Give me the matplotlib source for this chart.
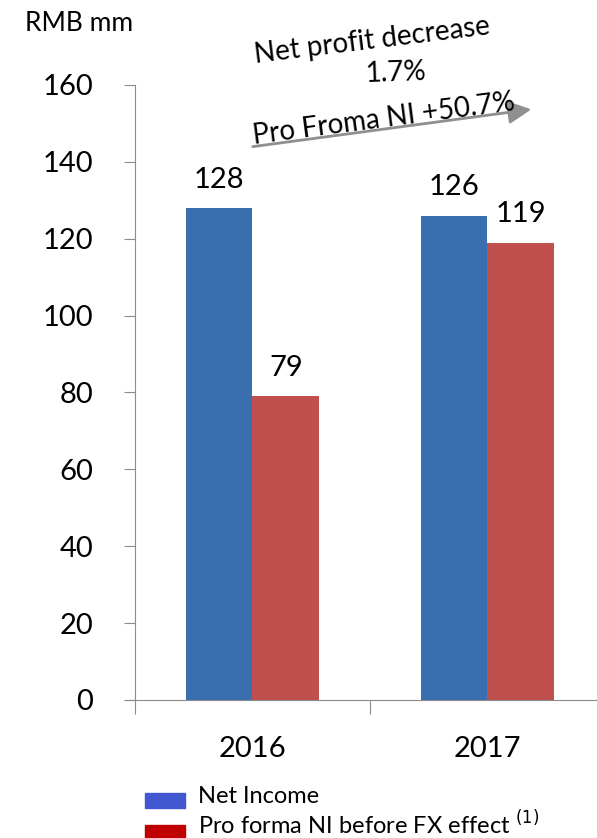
import numpy as np
import matplotlib.pyplot as plt
from matplotlib.patches import FancyArrowPatch, Rectangle

plt.rcParams['font.family'] = ['Lato', 'DejaVu Sans']

years = ["2016", "2017"]
net_income = [128, 126]
pro_forma = [79, 119]
yticks = [0, 20, 40, 60, 80, 100, 120, 140, 160]

blue = "#3A6FAF"
red = "#C0504D"
grey = "#8C8C8C"

fig = plt.figure(figsize=(5.97, 8.38), dpi=100)
ax = fig.add_axes([0.2261, 0.1647, 0.7873, 0.7339])

x = np.arange(len(years)) + 0.5
w = 0.285
ax.bar(x - w / 2, net_income, w, color=blue)
ax.bar(x + w / 2, pro_forma, w, color=red)

for xi, v in zip(x - w / 2, net_income):
    ax.text(xi, v + 4, str(v), ha="center", va="bottom", fontsize=21)
for xi, v in zip(x + w / 2, pro_forma):
    ax.text(xi, v + 4, str(v), ha="center", va="bottom", fontsize=21)

ax.set_xlim(0, 2)
ax.set_ylim(0, 160)
ax.set_yticks(yticks)
ax.set_xticks([0, 1, 2])
ax.set_xticklabels([])
ax.set_xticks(x, minor=True)
ax.set_xticklabels(years, minor=True, fontsize=21)
ax.tick_params(axis="x", which="minor", length=0, pad=26)
ax.tick_params(axis="x", which="major", length=10, color=grey, direction="out")
ax.tick_params(axis="y", length=8, color=grey, labelsize=21, pad=22)

for s in ["top", "right"]:
    ax.spines[s].set_visible(False)
ax.spines["left"].set_color(grey)
ax.spines["bottom"].set_color(grey)
ax.spines["bottom"].set_bounds(-0.04, 2)

fig.text(0.042, 0.972, "RMB mm", fontsize=19, va="center")

# growth arrow and annotations
fig.patches.append(FancyArrowPatch(
    (250 / 597, 1 - 147 / 838), (534 / 597, 1 - 109 / 838),
    transform=fig.transFigure, arrowstyle="-|>,head_length=7,head_width=3.5",
    color="#8F8F8F", lw=2, mutation_scale=2))
fig.text(372 / 597, 1 - 41 / 838, "Net profit decrease", fontsize=20,
         rotation=7, ha="center", va="center")
fig.text(396 / 597, 1 - 73 / 838, "1.7%", fontsize=20, rotation=2,
         ha="center", va="center")
fig.text(384 / 597, 1 - 119 / 838, "Pro Froma NI +50.7%", fontsize=20,
         rotation=7.4, ha="center", va="center")

# legend
fig.patches.append(Rectangle((145 / 597, 1 - 808 / 838), 40 / 597, 15 / 838,
                             transform=fig.transFigure, color="#4158D0"))
fig.patches.append(Rectangle((145 / 597, 1 - 838 / 838), 40 / 597, 13 / 838,
                             transform=fig.transFigure, color="#C00000"))
fig.text(198 / 597, 1 - 796 / 838, "Net Income", fontsize=17, va="center")
fig.text(198 / 597, 1 - 824 / 838, r"Pro forma NI before FX effect $^{(1)}$",
         fontsize=17, va="center")

fig.savefig("out.png", dpi=100)
